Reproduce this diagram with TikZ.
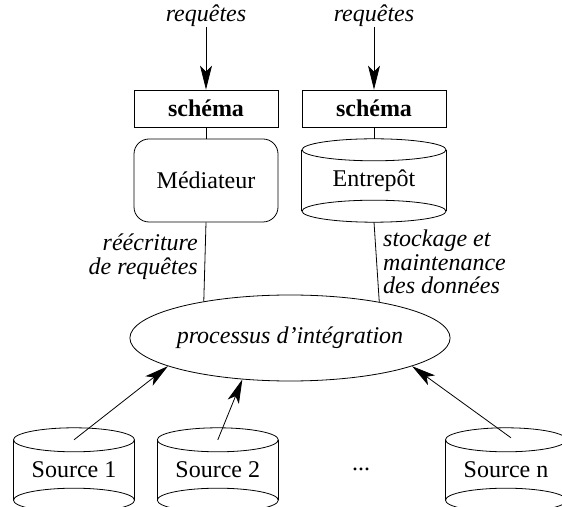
\documentclass[tikz,border=0pt]{standalone}
\usepackage{fontspec}
\setmainfont{Liberation Serif}
\usetikzlibrary{shapes.geometric,arrows.meta}
\newcommand\drawcyl[3]{%
  \draw[ln] ([yshift=-#3]#1.north west) -- ([yshift=#3]#1.south west);
  \draw[ln] ([yshift=-#3]#1.north east) -- ([yshift=#3]#1.south east);
  \draw[ln] ([yshift=-#3]#1.north) ellipse [x radius=#2, y radius=#3];
  \draw[ln] ([yshift=#3]#1.south) ellipse [x radius=#2, y radius=#3];
}
\begin{document}
\begin{tikzpicture}[x=1pt,y=1pt,
  every node/.style={font=\fontsize{24}{24}\selectfont},
  ln/.style={line width=0.8pt},
  lbl/.style={font=\fontsize{24}{23.5}\selectfont\itshape, inner sep=0pt},
  schbox/.style={ln, draw, minimum width=144pt, minimum height=37pt, inner sep=0pt,
                 font=\fontsize{24}{24}\selectfont\bfseries},
  medbox/.style={ln, draw, rounded corners=15pt, minimum width=144pt, minimum height=83pt, inner sep=0pt},
  cylbox/.style={minimum width=#1, minimum height=84pt, inner sep=0pt},
  procbox/.style={ln, draw, ellipse, minimum width=314pt, minimum height=86pt, inner sep=0pt,
                  font=\fontsize{24}{24}\selectfont\itshape},
  arr/.style={ln, -{Stealth[length=24pt,width=12pt,inset=6pt]}},
]
\useasboundingbox (0,0) rectangle (562,506);
% top labels
\node[lbl] (q1) at (206,490) {requêtes};
\node[lbl] (q2) at (374,490) {requêtes};
% schema boxes
\node[schbox] (sch1) at (206,397.5) {schéma};
\node[schbox] (sch2) at (374,397.5) {schéma};
% mediator and warehouse
\node[medbox] (med) at (206,325.5) {Médiateur};
\node[cylbox=144pt, minimum height=83pt] (ent) at (374,325.5) {Entrepôt};
\drawcyl{ent}{72pt}{11pt}
% integration process
\node[procbox] (proc) at (290,168) {processus d’intégration};
% side labels
\node[lbl, align=right, anchor=north east] (l1) at (198,272) {réécriture\\de requêtes};
\node[lbl, align=left, anchor=north west] (l2) at (383,276) {stockage et\\maintenance\\des données};
% sources
\node[cylbox=121pt] (s1) at (74,36) {Source 1};
\node[cylbox=121pt] (s2) at (217.8,36) {Source 2};
\node[cylbox=121pt] (sn) at (506,36) {Source n};
\drawcyl{s1}{60.5pt}{12pt}
\drawcyl{s2}{60.5pt}{12pt}
\drawcyl{sn}{60.5pt}{12pt}
\node (dots) at (361,37) {...};
% connectors
\draw[arr] (q1.south) -- (sch1.north);
\draw[arr] (q2.south) -- (sch2.north);
\draw[ln] (sch1.south) -- (med.north);
\draw[ln] (sch2.south) -- (ent.north);
\draw[ln] (med.south) -- (proc.157.1);
\draw[ln] (ent.south) -- (proc.22.9);
\coordinate (s1a) at ([yshift=-12pt]s1.north);
\coordinate (s2a) at ([yshift=-12pt]s2.north);
\coordinate (sna) at ([xshift=5pt,yshift=-10pt]sn.north);
\draw[arr] (s1a) -- (proc.193.5);
\draw[arr] (s2a) -- (proc.221);
\draw[arr] (sna) -- (proc.347.8);
\end{tikzpicture}
\end{document}
